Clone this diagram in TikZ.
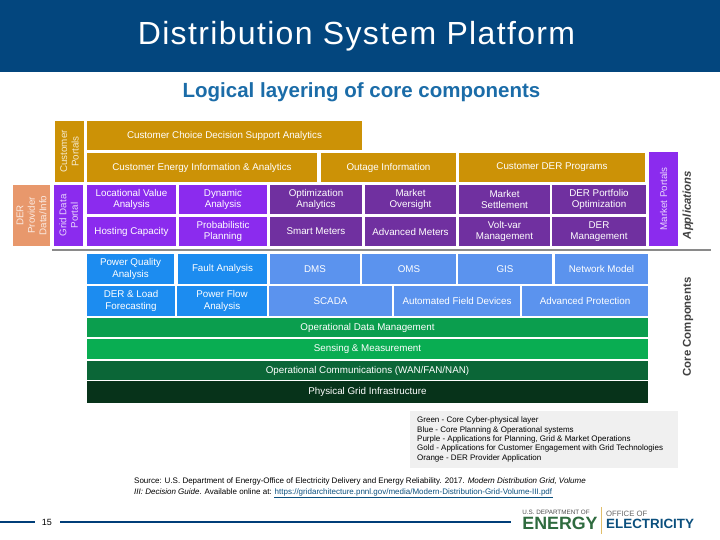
\documentclass[tikz,border=0pt]{standalone}
\usepackage{fontspec}
\setmainfont{Liberation Sans}
\usetikzlibrary{positioning}
\definecolor{headerblue}{HTML}{03467E}
\definecolor{titleblue}{HTML}{1B6CA8}
\definecolor{footblue}{HTML}{003E78}
\definecolor{goldapp}{HTML}{CC9206}
\definecolor{purplelight}{HTML}{8B2BEE}
\definecolor{purpledark}{HTML}{7030A0}
\definecolor{bluecore}{HTML}{1C8CF0}
\definecolor{bluesoft}{HTML}{5B93EE}
\definecolor{greenone}{HTML}{0B9E4E}
\definecolor{greentwo}{HTML}{09AD52}
\definecolor{greenthree}{HTML}{0B6637}
\definecolor{greenfour}{HTML}{07331A}
\definecolor{orangeder}{HTML}{E8986C}
\definecolor{legendgray}{HTML}{F0F0F0}
\definecolor{energygreen}{HTML}{2F6B3F}
\definecolor{elecblue}{HTML}{0B4F7D}
\definecolor{rulegray}{HTML}{8A8A8A}
\tikzset{
    cell/.style={inner sep=0pt, align=center, text=white, font=\fontsize{9.8}{11.5}\selectfont},
    sidecell/.style={cell, rotate=90, text opacity=0.8},
    smalltext/.style={inner sep=0pt, anchor=west, align=left, font=\fontsize{8}{9.4}\selectfont},
}
\newcommand{\blockat}[7]{%
    \node[cell, fill=#6, minimum width={(#3-#2)*1pt}, minimum height={(#5-#4)*1pt}] (#1) at ({(#2+#3)/2},{(#4+#5)/2}) {#7};
}
\newcommand{\sideat}[7]{%
    \node[sidecell, fill=#6, minimum width={(#5-#4)*1pt}, minimum height={(#3-#2)*1pt}] (#1) at ({(#2+#3)/2},{(#4+#5)/2}) {#7};
}
\begin{document}
\begin{tikzpicture}[x=1pt,y=-1pt]
    \useasboundingbox (0,0) rectangle (720,540);

    % header
    \fill[headerblue] (0,0) rectangle (720,72);
    \node[white, font=\fontsize{32}{32}\selectfont\addfontfeature{LetterSpace=4.2}] (title) at (356.5,36.5) {Distribution System Platform};
    \node[titleblue, font=\fontsize{20.5}{20.5}\bfseries\selectfont] (subtitle) at (361.5,92) {Logical layering of core components};

    % applications
    \sideat{portalcust}{55}{84}{121}{182}{goldapp}{Customer\\Portals}
    \blockat{choice}{87}{362}{121}{150}{goldapp}{Customer Choice Decision Support Analytics}
    \blockat{energyinfo}{87}{317}{153}{182}{goldapp}{Customer Energy Information \& Analytics}
    \blockat{outage}{321}{456}{153}{182}{goldapp}{Outage Information}
    \blockat{derprog}{459}{645}{153}{182}{goldapp}{Customer DER Programs}
    \sideat{derinfo}{13}{50}{185}{246}{orangeder}{DER\\Provider\\Data/Info}
    \sideat{portalgrid}{54}{83}{185}{246}{purplelight}{Grid Data\\Portal}
    \sideat{portalmarket}{649}{678}{152}{246}{purplelight}{Market Portals}

    \foreach \name/\xl/\xr/\col/\txt in {
        locvalue/87/176/purplelight/{Locational Value\\Analysis},
        dynamic/179/267/purplelight/{Dynamic\\Analysis},
        optim/270/362/purpledark/{Optimization\\Analytics},
        oversight/365/456/purpledark/{Market\\Oversight},
        settle/459/550/purpledark/{Market\\Settlement},
        portfolio/552/646/purpledark/{DER Portfolio\\Optimization}} {
        \blockat{\name}{\xl}{\xr}{185}{214}{\col}{\txt}
    }
    \foreach \name/\xl/\xr/\col/\txt in {
        hosting/87/176/purplelight/{Hosting Capacity},
        probab/179/267/purplelight/{Probabilistic\\Planning},
        smart/270/362/purpledark/{Smart Meters},
        advmeter/365/456/purpledark/{Advanced Meters},
        voltvar/459/550/purpledark/{Volt-var\\Management},
        dermgmt/552/646/purpledark/{DER\\Management}} {
        \blockat{\name}{\xl}{\xr}{217}{246}{\col}{\txt}
    }

    % divider
    \coordinate (ruleleft) at (52,250);
    \coordinate (ruleright) at (711,250);
    \draw[rulegray, line width=1.2pt] (ruleleft) -- (ruleright);

    % core
    \foreach \name/\xl/\xr/\col/\txt in {
        quality/87/174/bluecore/{Power Quality\\Analysis},
        fault/178/267/bluecore/{Fault Analysis},
        dms/270/360/bluesoft/{DMS},
        oms/362/456/bluesoft/{OMS},
        gis/458/552/bluesoft/{GIS},
        network/555/648/bluesoft/{Network Model}} {
        \blockat{\name}{\xl}{\xr}{254}{284}{\col}{\txt}
    }
    \foreach \name/\xl/\xr/\col/\txt in {
        forecast/87/175/bluecore/{DER \& Load\\Forecasting},
        flow/177/267/bluecore/{Power Flow\\Analysis},
        scada/269/392/bluesoft/{SCADA},
        autodev/394/520/bluesoft/{Automated Field Devices},
        protect/522/648/bluesoft/{Advanced Protection}} {
        \blockat{\name}{\xl}{\xr}{286}{316}{\col}{\txt}
    }
    \blockat{datamgmt}{87}{648}{318}{337}{greenone}{Operational Data Management}
    \blockat{sensing}{87}{648}{339}{359}{greentwo}{Sensing \& Measurement}
    \blockat{comms}{87}{648}{361}{380}{greenthree}{Operational Communications (WAN/FAN/NAN)}
    \blockat{physical}{87}{648}{381}{403}{greenfour}{Physical Grid Infrastructure}

    \node[rotate=90, font=\fontsize{11.4}{11.4}\bfseries\itshape, text=black!75] (applabel) at (688,205) {Applications};
    \node[rotate=90, font=\fontsize{11.4}{11.4}\bfseries, text=black!75] (corelabel) at (688,327) {Core Components};

    % legend
    \fill[legendgray] (410,411) rectangle (678,468);
    \node[smalltext, text=black] (legend) at (417,439.5) {Green - Core Cyber-physical layer\\
        Blue - Core Planning \& Operational systems\\
        Purple - Applications for Planning, Grid \& Market Operations\\
        Gold - Applications for Customer Engagement with Grid Technologies\\
        Orange - DER Provider Application};

    % source
    \node[smalltext, anchor=north west, font=\fontsize{8}{11.2}\selectfont] (source) at (134,477) {Source: U.S. Department of Energy-Office of Electricity Delivery and Energy Reliability. 2017. \textit{Modern Distribution Grid, Volume}\\
        \textit{III: Decision Guide}. Available online at: {\color{elecblue}https://gridarchitecture.pnnl.gov/media/Modern-Distribution-Grid-Volume-III.pdf}};
    \coordinate (linkleft) at (274,497);
    \coordinate (linkright) at (553,497);
    \draw[elecblue, line width=1pt] (linkleft) -- (linkright);

    % footer
    \node[font=\fontsize{9}{9}\selectfont] (pagenum) at (47,522) {15};
    \coordinate (footstart) at (0,522);
    \coordinate (footend) at (511,522);
    \draw[footblue, line width=1.4pt] (footstart) -- (35,522);
    \draw[footblue, line width=1.4pt] (60,522) -- (footend);

    \node[energygreen, font=\fontsize{17.8}{17.8}\bfseries\selectfont, inner sep=0pt] (energy) at (560,523.5) {ENERGY};
    \node[black!70, font=\fontsize{6.3}{6.3}\selectfont, inner sep=0pt] (usdept) at (556,512) {U.S. DEPARTMENT OF};
    \node[elecblue, font=\fontsize{13.4}{13.4}\bfseries\selectfont, inner sep=0pt, anchor=west] (elec) at (606,524) {ELECTRICITY};
    \node[black!60, font=\fontsize{7.7}{7.7}\selectfont, inner sep=0pt, anchor=west] (office) at (606,514) {OFFICE OF};
    \coordinate (bartop) at (601,507);
    \coordinate (barbottom) at (601,534);
    \draw[goldapp!60, line width=0.8pt] (bartop) -- (barbottom);
\end{tikzpicture}
\end{document}
